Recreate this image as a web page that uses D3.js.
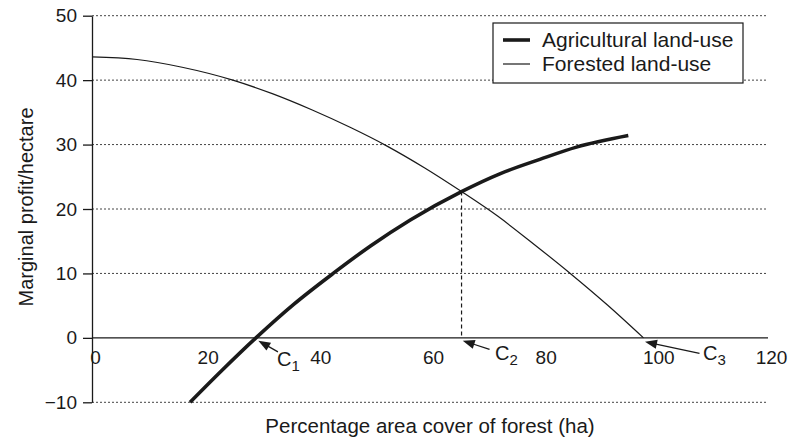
<!DOCTYPE html>
<html>
<head>
<meta charset="utf-8">
<script src="https://cdn.jsdelivr.net/npm/d3@7"></script>
<style>
  html, body { margin: 0; padding: 0; background: #fff; }
  svg { display: block; font-family: "Liberation Sans", Arial, Helvetica, sans-serif; }
</style>
</head>
<body>
<svg id="chart" width="795" height="441"></svg>
<script>
// Marginal profit per hectare against forest cover
const agricultural = [
  [17.4, -10], [23, -5.1], [29.1, 0], [35.8, 5.2], [42.8, 10], [49.5, 14.3],
  [56.5, 18.3], [65.6, 22.7], [72.5, 25.5], [79.5, 27.7], [86, 29.6], [95.2, 31.4]
];
const forested = [
  [0, 43.6], [8, 43.2], [16, 42.0], [25, 40], [32, 37.9], [39, 35.4],
  [46, 32.6], [52.3, 29.8], [59, 26.4], [65.6, 22.7], [72, 18.9],
  [78.5, 14.5], [84.9, 10], [91.5, 5.1], [97.9, 0]
];
const xTicks = [0, 20, 40, 60, 80, 100, 120];
const yTicks = [-10, 0, 10, 20, 30, 40, 50];
const seriesNames = ["Agricultural land-use", "Forested land-use"];
// Points of interest: C1 agricultural break-even, C2 intersection, C3 forest break-even
const cPoints = [
  { name: "C", sub: "1", x: 29.1, y: 0 },
  { name: "C", sub: "2", x: 65.6, y: 22.7 },
  { name: "C", sub: "3", x: 97.9, y: 0 }
];

const svg = d3.select("#chart");
const ink = "#1a1a1a";

const x = d3.scaleLinear().domain([0, 120]).range([92, 768]);
const y = d3.scaleLinear().domain([-10, 50]).range([402.3, 15.7]);

// dotted horizontal gridlines
svg.append("g")
  .selectAll("line")
  .data(yTicks.filter(d => d !== 0))
  .join("line")
  .attr("x1", x(0)).attr("x2", x(120))
  .attr("y1", d => y(d)).attr("y2", d => y(d))
  .attr("stroke", "#444").attr("stroke-width", 1)
  .attr("stroke-dasharray", "2,2");

// y axis
const yAxis = svg.append("g")
  .attr("transform", `translate(${x(0)},0)`)
  .call(d3.axisLeft(y).tickValues(yTicks).tickSize(9).tickPadding(6).tickSizeOuter(0));
yAxis.select(".domain").attr("stroke", ink).attr("stroke-width", 1.3);
yAxis.selectAll(".tick line").attr("stroke", ink).attr("stroke-width", 1.3);
yAxis.selectAll(".tick text").attr("font-size", 19).attr("fill", ink)
  .attr("font-family", "Liberation Sans, Arial, sans-serif");

// zero line with x labels
svg.append("line")
  .attr("x1", x(0)).attr("x2", x(120))
  .attr("y1", y(0)).attr("y2", y(0))
  .attr("stroke", ink).attr("stroke-width", 1.4);

const xAxis = svg.append("g")
  .attr("transform", `translate(0,${y(0)})`)
  .call(d3.axisBottom(x).tickValues(xTicks).tickSize(0).tickPadding(12.5));
xAxis.select(".domain").remove();
xAxis.selectAll(".tick text").attr("font-size", 19).attr("fill", ink)
  .attr("dx", 3)
  .attr("font-family", "Liberation Sans, Arial, sans-serif");

// curves
const line = d3.line().x(d => x(d[0])).y(d => y(d[1])).curve(d3.curveMonotoneX);

svg.append("path").datum(forested)
  .attr("d", line).attr("fill", "none")
  .attr("stroke", ink).attr("stroke-width", 1.2);

svg.append("path").datum(agricultural)
  .attr("d", line).attr("fill", "none")
  .attr("stroke", ink).attr("stroke-width", 3.6).attr("stroke-linecap", "butt");

// dashed drop line from the intersection
const c2 = cPoints[1];
svg.append("line")
  .attr("x1", x(c2.x)).attr("x2", x(c2.x))
  .attr("y1", y(c2.y)).attr("y2", y(0))
  .attr("stroke", ink).attr("stroke-width", 1.2)
  .attr("stroke-dasharray", "4,3");

// arrow annotations (offsets in pixels from each point)
const arrowStyle = [
  { tip: [2.4, 2.8], tail: [22, 14], label: [21, 28] },
  { tip: [1.2, 2.8], tail: [28, 11.5], label: [33.5, 22] },
  { tip: [1.5, 3.8], tail: [56, 15.5], label: [59.5, 22] }
];
const ann = svg.append("g");
cPoints.forEach((p, i) => {
  const s = arrowStyle[i];
  const px = x(p.x), py = y(0);
  const tx = px + s.tip[0], ty = py + s.tip[1];
  const bx = px + s.tail[0], by = py + s.tail[1];
  const dx = tx - bx, dy = ty - by, len = Math.hypot(dx, dy);
  const ux = dx / len, uy = dy / len;
  const headL = 12, headW = 4.6;
  const hx = tx - ux * headL, hy = ty - uy * headL;
  ann.append("line")
    .attr("x1", bx).attr("y1", by).attr("x2", hx + ux * 2).attr("y2", hy + uy * 2)
    .attr("stroke", ink).attr("stroke-width", 1.3);
  ann.append("path")
    .attr("d", `M${tx},${ty}L${hx - uy * headW},${hy + ux * headW}L${hx + uy * headW},${hy - ux * headW}Z`)
    .attr("fill", ink);
  const t = ann.append("text")
    .attr("x", px + s.label[0]).attr("y", py + s.label[1])
    .attr("font-size", 20).attr("fill", ink);
  t.append("tspan").text(p.name);
  t.append("tspan").attr("font-size", 15).attr("dy", 5).text(p.sub);
});

// axis titles
svg.append("text")
  .attr("x", 430).attr("y", 433)
  .attr("text-anchor", "middle").attr("font-size", 20.5).attr("fill", ink)
  .text("Percentage area cover of forest (ha)");

svg.append("text")
  .attr("transform", "translate(33,207) rotate(-90)")
  .attr("text-anchor", "middle").attr("font-size", 20).attr("fill", ink)
  .text("Marginal profit/hectare");

// legend
const legend = svg.append("g");
legend.append("rect")
  .attr("x", 493).attr("y", 23).attr("width", 250).attr("height", 60)
  .attr("fill", "#fff").attr("stroke", ink).attr("stroke-width", 1.2);
const widths = [3.6, 1.2];
seriesNames.forEach((name, i) => {
  const ly = 40 + i * 24;
  legend.append("line")
    .attr("x1", 503).attr("x2", 530).attr("y1", ly).attr("y2", ly)
    .attr("stroke", ink).attr("stroke-width", widths[i]);
  legend.append("text")
    .attr("x", 542).attr("y", ly + 7.3)
    .attr("font-size", 21).attr("fill", ink)
    .text(name);
});
</script>
</body>
</html>
